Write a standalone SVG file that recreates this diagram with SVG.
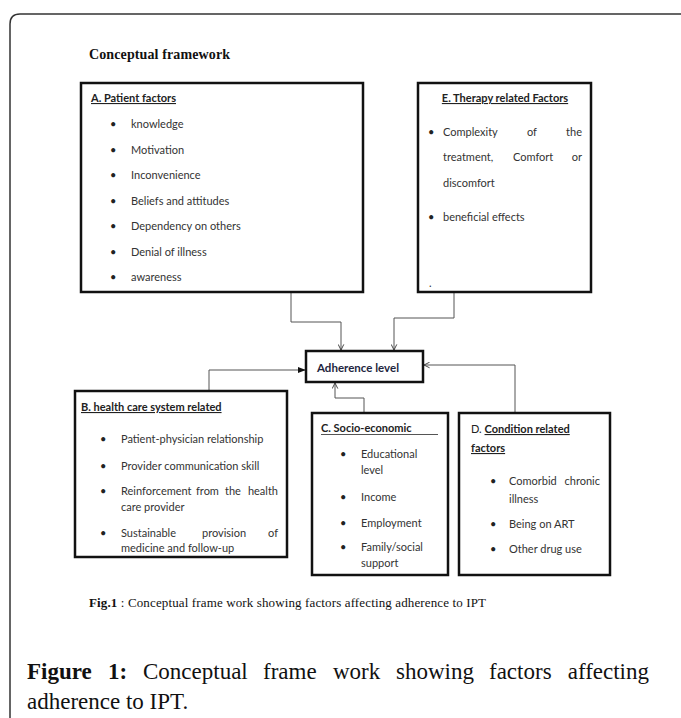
<svg xmlns="http://www.w3.org/2000/svg" width="681" height="718" viewBox="0 0 681 718">
<defs>
<style>
.box{fill:#fff;stroke:#111;stroke-width:2.5}
.con{fill:none;stroke:#555;stroke-width:1}
.t{font-family:Lato,"Liberation Sans",sans-serif;font-size:11px;fill:#333}
.h{font-family:Lato,"Liberation Sans",sans-serif;font-size:11px;font-weight:bold;fill:#222;text-decoration:underline}
.b{font-family:Lato,"Liberation Sans",sans-serif;font-size:11px;fill:#222}
.serif{font-family:"Liberation Serif","Times New Roman",serif;fill:#111}
</style>
<marker id="open" viewBox="0 0 10 10" refX="9" refY="5" markerWidth="7" markerHeight="7" orient="auto" markerUnits="userSpaceOnUse">
<path d="M1,1 L9,5 L1,9" fill="none" stroke="#444" stroke-width="1.4"/>
</marker>
<marker id="fill" viewBox="0 0 10 10" refX="9" refY="5" markerWidth="8" markerHeight="8" orient="auto" markerUnits="userSpaceOnUse">
<path d="M0,1 L10,5 L0,9 Z" fill="#111"/>
</marker>
</defs>
<rect width="681" height="718" fill="#fff"/>
<path d="M10,718 V24 Q10,14 20,14 H681" fill="none" stroke="#333" stroke-width="1.5"/>
<text class="serif" x="89" y="59" font-size="14" font-weight="bold" textLength="141">Conceptual framework</text>

<g id="connectors">
<path class="con" d="M291,293 V322 H341 V350" marker-end="url(#open)"/>
<path class="con" d="M454,283 V318 H394 V350" marker-end="url(#open)"/>
<path class="con" d="M209,390 V370 H305" marker-end="url(#fill)"/>
<path class="con" d="M515,412 V365 H424" marker-end="url(#open)"/>
<path class="con" d="M364,412 V398 H335 V383" marker-end="url(#open)"/>
</g>

<g id="nodeA">
<rect class="box" x="81" y="83" width="282" height="209"/>
<text class="h" x="91" y="102">A. Patient factors</text>
<text class="b" x="110" y="128">•</text><text class="t" x="131" y="128">knowledge</text>
<text class="b" x="110" y="154">•</text><text class="t" x="131" y="154">Motivation</text>
<text class="b" x="110" y="179">•</text><text class="t" x="131" y="179">Inconvenience</text>
<text class="b" x="110" y="205">•</text><text class="t" x="131" y="205">Beliefs and attitudes</text>
<text class="b" x="110" y="230">•</text><text class="t" x="131" y="230">Dependency on others</text>
<text class="b" x="110" y="256">•</text><text class="t" x="131" y="256">Denial of illness</text>
<text class="b" x="110" y="281">•</text><text class="t" x="131" y="281">awareness</text>
</g>

<g id="nodeE">
<rect class="box" x="418" y="83" width="173" height="209"/>
<text class="h" x="505" y="102" text-anchor="middle">E. Therapy related Factors</text>
<text class="b" x="428" y="136">•</text>
<text class="t" x="443" y="136">Complexity</text><text class="t" x="527" y="136">of</text><text class="t" x="582" y="136" text-anchor="end">the</text>
<text class="t" x="443" y="161">treatment,</text><text class="t" x="513" y="161">Comfort</text><text class="t" x="582" y="161" text-anchor="end">or</text>
<text class="t" x="443" y="187">discomfort</text>
<text class="b" x="428" y="221">•</text><text class="t" x="443" y="221">beneficial effects</text>
<text class="t" x="429" y="287">.</text>
</g>

<g id="nodeAdherence">
<rect class="box" x="306" y="351" width="117" height="31"/>
<text x="317" y="372" font-family="Lato,'Liberation Sans',sans-serif" font-size="11.5" font-weight="bold" fill="#1e2640" textLength="82">Adherence level</text>
</g>

<g id="nodeB">
<rect class="box" x="75" y="391" width="212" height="166"/>
<text class="h" x="81" y="411">B. health care system related</text>
<text class="b" x="100" y="443">•</text><text class="t" x="121" y="443">Patient-physician relationship</text>
<text class="b" x="100" y="470">•</text><text class="t" x="121" y="470">Provider communication skill</text>
<text class="b" x="100" y="495">•</text>
<text class="t" x="121" y="495">Reinforcement</text><text class="t" x="196" y="495">from</text><text class="t" x="225" y="495">the</text><text class="t" x="278" y="495" text-anchor="end">health</text>
<text class="t" x="121" y="511">care provider</text>
<text class="b" x="100" y="537">•</text>
<text class="t" x="121" y="537">Sustainable</text><text class="t" x="202" y="537">provision</text><text class="t" x="278" y="537" text-anchor="end">of</text>
<text class="t" x="121" y="552">medicine and follow-up</text>
</g>

<g id="nodeC">
<rect class="box" x="312" y="413" width="136" height="162"/>
<text class="b" x="321" y="432" font-weight="bold">C. Socio-economic</text>
<line x1="321" y1="434.5" x2="438" y2="434.5" stroke="#555" stroke-width="1"/>
<text class="b" x="340" y="458">•</text><text class="t" x="361" y="458">Educational</text>
<text class="t" x="361" y="474">level</text>
<text class="b" x="340" y="501">•</text><text class="t" x="361" y="501">Income</text>
<text class="b" x="340" y="527">•</text><text class="t" x="361" y="527">Employment</text>
<text class="b" x="340" y="551">•</text><text class="t" x="361" y="551">Family/social</text>
<text class="t" x="361" y="567">support</text>
</g>

<g id="nodeD">
<rect class="box" x="459" y="413" width="151" height="162"/>
<text class="b" x="471" y="433">D. <tspan font-weight="bold" text-decoration="underline">Condition related</tspan></text>
<text class="h" x="471" y="452">factors</text>
<text class="b" x="490" y="485">•</text>
<text class="t" x="509" y="485">Comorbid</text><text class="t" x="600" y="485" text-anchor="end">chronic</text>
<text class="t" x="509" y="503">illness</text>
<text class="b" x="490" y="528">•</text><text class="t" x="509" y="528">Being on ART</text>
<text class="b" x="490" y="553">•</text><text class="t" x="509" y="553">Other drug use</text>
</g>

<text class="serif" x="89" y="607" font-size="13" textLength="397"><tspan font-weight="bold">Fig.1</tspan> : Conceptual frame work showing factors affecting adherence to IPT</text>

<g class="serif" font-size="23">
<text x="27" y="679" font-weight="bold">Figure</text>
<text x="108" y="679" font-weight="bold">1:</text>
<text x="143" y="679">Conceptual</text>
<text x="263" y="679">frame</text>
<text x="333" y="679">work</text>
<text x="396" y="679">showing</text>
<text x="489" y="679">factors</text>
<text x="649" y="679" text-anchor="end">affecting</text>
<text x="27" y="709">adherence to IPT.</text>
</g>
</svg>
